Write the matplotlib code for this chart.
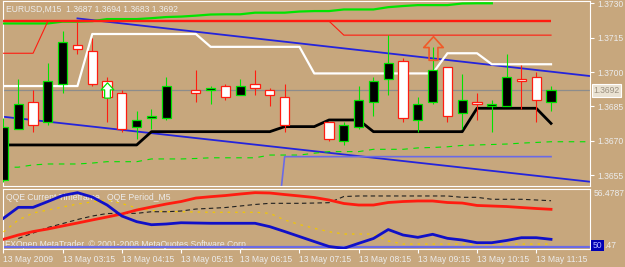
import matplotlib
matplotlib.use('Agg')
import matplotlib.pyplot as plt
import numpy as np
from matplotlib.path import Path

plt.rcParams['font.family'] = ['Liberation Sans', 'DejaVu Sans']

# EURUSD M15, bars from 02:15 to 11:30 (nan = bar hidden behind indicator line)
nan = np.nan
opens  = [1.3653, 1.3675, 1.3687, 1.3678, 1.3695, 1.3712, 1.3709, 1.3696, 1.3691, 1.3676,
          1.3680, 1.3680, nan,    1.3692, 1.3692, 1.3694, 1.3690, 1.3695, 1.3692, 1.3689,
          nan,    nan,    1.3678, 1.3670, 1.3676, 1.3687, 1.3697, 1.3705, 1.3679, 1.3687,
          1.3702, 1.3682, 1.3687, 1.3685, 1.3685, 1.3697, 1.3698, 1.3687]
highs  = [1.3680, 1.3697, 1.3692, 1.3704, 1.3718, 1.3722, 1.3715, 1.3698, 1.3692, 1.3683,
          1.3684, 1.3698, nan,    1.3701, 1.3694, 1.3695, 1.3697, 1.3701, 1.3693, 1.3695,
          nan,    nan,    1.3678, 1.3678, 1.3694, 1.3698, 1.3716, 1.3706, 1.3689, 1.3711,
          1.3702, 1.3699, 1.3691, 1.3688, 1.3708, 1.3703, 1.3700, 1.3694]
lows   = [1.3652, 1.3675, 1.3674, 1.3677, 1.3691, 1.3708, 1.3694, 1.3678, 1.3674, 1.3671,
          1.3675, 1.3679, nan,    1.3687, 1.3686, 1.3688, 1.3690, 1.3690, 1.3685, 1.3674,
          nan,    nan,    1.3670, 1.3668, 1.3675, 1.3681, 1.3690, 1.3678, 1.3674, 1.3686,
          1.3678, 1.3675, 1.3679, 1.3674, 1.3685, 1.3684, 1.3678, 1.3683]
closes = [1.3676, 1.3686, 1.3677, 1.3696, 1.3713, 1.3710, 1.3695, 1.3689, 1.3675, 1.3679,
          1.3681, 1.3694, nan,    1.3691, 1.3693, 1.3689, 1.3694, 1.3693, 1.3690, 1.3677,
          nan,    nan,    1.3671, 1.3677, 1.3688, 1.3696, 1.3704, 1.3680, 1.3686, 1.3701,
          1.3681, 1.3688, 1.3686, 1.3686, 1.3698, 1.3696, 1.3688, 1.3692]

# main window indicators
green_top = [1.37212, 1.37212, 1.37212, 1.37212, 1.37220, 1.37220, 1.37222, 1.37231, 1.37231, 1.37231,
             1.37235, 1.37240, 1.37242, 1.37246, 1.37251, 1.37252, 1.37252, 1.37259, 1.37259, 1.37259,
             1.37264, 1.37266, 1.37266, 1.37273, 1.37273, 1.37273, 1.37283, 1.37288, 1.37292, 1.37292,
             1.37292, 1.37299, 1.37300, 1.37300]
red_level = 1.37222
red_thin = [1.37082, 1.37082, 1.37082, 1.37222, 1.37222, 1.37222, 1.37222, 1.37222, 1.37222, 1.37222,
            1.37222, 1.37222, 1.37222, 1.37222, 1.37222, 1.37222, 1.37222, 1.37222, 1.37222, 1.37222,
            1.37222, 1.37222, 1.37222, 1.37161, 1.37161, 1.37161, 1.37161, 1.37161, 1.37161, 1.37161,
            1.37161, 1.37161, 1.37161, 1.37161, 1.37161, 1.37161, 1.37161, 1.37161]
white_line = [1.36939, 1.36939, 1.36939, 1.36939, 1.36939, 1.36939, 1.37166, 1.37166, 1.37166, 1.37166,
              1.37166, 1.37166, 1.37166, 1.37166, 1.37110, 1.37110, 1.37110, 1.37110, 1.37110, 1.37110,
              1.37110, 1.36994, 1.36994, 1.36994, 1.36994, 1.36994, 1.36994, 1.36994, 1.36994, 1.36994,
              1.37082, 1.37082, 1.37082, 1.37034, 1.37034, 1.37034, 1.37034, 1.37034]
black_line = [1.36682, 1.36682, 1.36682, 1.36682, 1.36682, 1.36682, 1.36682, 1.36682, 1.36682, 1.36682,
              1.36740, 1.36740, 1.36740, 1.36740, 1.36740, 1.36740, 1.36740, 1.36740, 1.36740, 1.36762,
              1.36762, 1.36762, 1.36791, 1.36791, 1.36791, 1.36740, 1.36740, 1.36740, 1.36740, 1.36740,
              1.36740, 1.36740, 1.36842, 1.36842, 1.36842, 1.36842, 1.36842, 1.36776]
purple_line = [1.3603, 1.3603, 1.3603, 1.3603, 1.3603, 1.3603, 1.3603, 1.3603, 1.3603, 1.3603,
               1.3603, 1.3603, 1.3603, 1.3603, 1.3603, 1.3603, 1.3603, 1.3603, 1.3603, 1.36631,
               1.36631, 1.36631, 1.36631, 1.36631, 1.36631, 1.36631, 1.36631, 1.36631, 1.36631, 1.36631,
               1.36631, 1.36631, 1.36631, 1.36631, 1.36631, 1.36631, 1.36631, 1.36631]
green_dash = [1.36585, 1.36585, 1.36595, 1.36599, 1.36599, 1.36599, 1.36603, 1.36609, 1.36609, 1.36609,
              1.36621, 1.36621, 1.36621, 1.36623, 1.36626, 1.36626, 1.36626, 1.36626, 1.36638, 1.36638,
              1.36638, 1.36646, 1.36653, 1.36653, 1.36653, 1.36663, 1.36663, 1.36663, 1.36669, 1.36671,
              1.36674, 1.36680, 1.36682, 1.36684, 1.36686, 1.36690, 1.36693, 1.36696, 1.36696, 1.36696,
              1.36696]
# channel (trend lines), anchor bar / price
chan_up_bars = [5, 40]
chan_up_prices = [1.37234, 1.36980]
chan_lo_bars = [0, 40]
chan_lo_prices = [1.36805, 1.36519]
arrow_bars = [7, 29]
arrow_prices = [1.36922, 1.37105]

# QQE window
qqe_red = [50.86, 51.34, 51.73, 52.01, 52.35, 52.68, 53.02, 53.35, 53.69, 54.13,
           54.47, 54.80, 55.08, 55.47, 55.62, 55.75, 55.92, 56.07, 56.03, 55.86,
           55.70, 55.53, 55.25, 54.86, 54.69, 54.69, 54.97, 55.08, 55.14, 55.14,
           54.97, 54.91, 54.64, 54.58, 54.52, 54.41, 54.30, 54.21]
qqe_blue = [53.21, 54.43, 54.43, 55.08, 55.75, 56.07, 55.58, 54.69, 53.46, 52.83,
            52.49, 52.57, 52.71, 52.68, 52.65, 52.65, 52.65, 52.65, 52.27, 51.73,
            51.17, 50.61, 50.06, 49.85, 50.41, 50.95, 51.95, 51.34, 51.08, 51.42,
            50.97, 50.78, 50.48, 50.48, 50.73, 51.04, 51.04, 50.86]
qqe_black = [nan, 50.95, 51.56, 52.18, 52.62, 53.07, 53.46, 53.74, 53.76, 53.76,
             53.94, 53.94, 54.02, 54.24, 54.32, 54.41, 54.58, 54.75, 54.88, 54.88,
             54.88, 54.91, 54.95, 55.64, 55.70, 55.70, 55.70, 55.70, 55.70, 55.70,
             55.70, 55.55, 55.55, 55.33, 55.33, 55.33, 55.25, 55.17]
qqe_yellow = [51.68, 53.02, 53.80, 54.13, 54.47, 54.80, 55.03, 55.25, 54.86, 54.36,
              54.08, 53.94, 53.94, 53.91, 53.88, 53.88, 53.88, 53.88, 53.76, 53.02,
              52.51, 52.09, 51.71, 51.45, 51.45, 51.45, 50.67, 50.33, 50.33, 50.33,
              50.33, 50.33, 50.33, 50.33, 50.33, 50.33, 50.33, 50.33]
qqe_level = 50
qqe_max = 56.4787

price_ticks = [1.3655, 1.3670, 1.3685, 1.3700, 1.3715, 1.3730]
time_tick_bars = [0, 4, 8, 12, 16, 20, 24, 28, 32, 36]
time_labels = ['13 May 2009', '13 May 03:15', '13 May 04:15', '13 May 05:15', '13 May 06:15',
               '13 May 07:15', '13 May 08:15', '13 May 09:15', '13 May 10:15', '13 May 11:15']

BG = '#C7A77D'
GREEN = '#00E400'
RED = '#FF1C10'
BLUE = '#2424DC'
PURPLE = '#6A6AE6'
TXT = '#ECECEC'
FS = 6.2

o = np.array(opens); h = np.array(highs); l = np.array(lows); c = np.array(closes)
bars = np.arange(len(o))
xlim = (-0.054, 39.63)

fig = plt.figure(figsize=(6.25, 2.67), dpi=100, facecolor=BG)

# ---- main price window
ax = fig.add_axes([0.0043, 0.3034, 0.9396, 0.6929], facecolor=BG)
ax.set_xlim(*xlim)
ax.set_ylim(1.36503, 1.37310)

ax.axhline(c[-1], color='#8C8C8C', lw=0.9, zorder=1)
ax.plot(chan_up_bars, chan_up_prices, color=BLUE, lw=1.3, zorder=2)
ax.plot(chan_lo_bars, chan_lo_prices, color=BLUE, lw=1.3, zorder=2)
ax.plot(np.arange(len(green_dash)), green_dash, color=GREEN, lw=0.8, ls=(0, (5, 5)), zorder=2)
ax.plot(bars, purple_line, color=PURPLE, lw=1.2, zorder=2)
ax.plot(np.arange(len(green_top)), green_top, color=GREEN, lw=1.6, zorder=3)
ax.hlines(red_level, bars[0], bars[-1], color=RED, lw=1.7, zorder=3)
ax.plot(bars, red_thin, color=RED, lw=0.8, zorder=3)
ax.plot(bars, white_line, color='white', lw=1.6, zorder=3)
ax.plot(bars, black_line, color='black', lw=2.0, zorder=3)

bull = c > o
bear = c < o
ax.vlines(bars[bull], l[bull], h[bull], color=GREEN, lw=0.8, zorder=5)
ax.bar(bars[bull], (c - o)[bull], bottom=o[bull], width=0.62, color='black',
       edgecolor=GREEN, linewidth=0.9, zorder=6)
ax.vlines(bars[bear], l[bear], h[bear], color=RED, lw=0.8, zorder=5)
ax.bar(bars[bear], (o - c)[bear], bottom=c[bear], width=0.62, color='white',
       edgecolor=RED, linewidth=0.9, zorder=6)

arrow = Path([(0, 1), (0.83, 0.08), (0.375, 0.08), (0.375, -1), (-0.375, -1),
              (-0.375, 0.08), (-0.83, 0.08), (0, 1)],
             [Path.MOVETO] + [Path.LINETO] * 6 + [Path.CLOSEPOLY])
ax.plot(arrow_bars[0], arrow_prices[0], marker=arrow, ms=11, mfc='white', mec=GREEN, mew=0.9, zorder=8)
ax.plot(arrow_bars[1], arrow_prices[1], marker=arrow, ms=17, mfc='none', mec='#F05A28', mew=1.2, zorder=8)

ax.set_xticks([])
ax.yaxis.tick_right()
ax.set_yticks(price_ticks, labels=['%.4f' % p for p in price_ticks])
ax.tick_params(axis='y', length=3, width=0.8, color='white', pad=2.5,
               labelsize=FS, labelcolor=TXT)
for s in ax.spines.values():
    s.set_color('white')
    s.set_linewidth(0.8)

ax.text(0.0057, 0.955, 'EURUSD,M15  %.4f %.4f %.4f %.4f' % (o[-1], h[-1], l[-1], c[-1]),
        transform=ax.transAxes, fontsize=FS, color=TXT, va='center', ha='left', zorder=10)
ax.annotate('%.4f' % c[-1], xy=(1, c[-1]), xycoords=('axes fraction', 'data'),
            xytext=(2.5, 0), textcoords='offset points', va='center', ha='left',
            fontsize=FS, color='#9A9080',
            bbox=dict(boxstyle='square,pad=0.2', fc='#EAE2D2', ec='white', lw=0.8),
            annotation_clip=False)

# ---- QQE window
ax2 = fig.add_axes([0.0043, 0.0674, 0.9396, 0.2236], facecolor=BG)
ax2.set_xlim(*xlim)
ax2.set_ylim(49.777, 56.445)

ax2.text(0.0056, 0.87, 'QQE Current Timeframe', transform=ax2.transAxes,
         fontsize=FS, color=TXT, va='center', ha='left', zorder=1)
ax2.text(0.1776, 0.87, 'QQE Period_M5', transform=ax2.transAxes,
         fontsize=FS, color=TXT, va='center', ha='left', zorder=1)
ax2.text(0.004, 0.08, 'FXOpen MetaTrader, \u00a9 2001-2008 MetaQuotes Software Corp.',
         transform=ax2.transAxes, fontsize=FS, color=TXT, va='center', ha='left', zorder=1)

ax2.axhline(qqe_level, color=PURPLE, lw=1.6, zorder=2)
ax2.plot(bars, qqe_yellow, color='#F2C800', lw=0.9, ls=(0, (2, 4)), zorder=3)
ax2.plot(bars, qqe_black, color='#202020', lw=0.8, ls=(0, (4, 3)), zorder=3)
ax2.plot(bars, qqe_red, color=RED, lw=2.0, zorder=4)
ax2.plot(bars, qqe_blue, color='#1010C8', lw=2.0, zorder=4)

ax2.set_yticks([])
ax2.set_xticks(time_tick_bars, labels=time_labels)
plt.setp(ax2.get_xticklabels(), ha='left')
ax2.tick_params(axis='x', length=3, width=0.8, color='white', pad=1.5,
                labelsize=FS, labelcolor=TXT)
for s in ax2.spines.values():
    s.set_color('white')
    s.set_linewidth(0.8)

ax2.annotate('%.4f' % qqe_max, xy=(1, qqe_max), xycoords=('axes fraction', 'data'),
             xytext=(2.5, 0), textcoords='offset points', va='top', ha='left',
             fontsize=FS, color=TXT, annotation_clip=False)
ax2.annotate('%d' % qqe_level, xy=(1, qqe_level), xycoords=('axes fraction', 'data'),
             xytext=(2, 1), textcoords='offset points', va='center', ha='left',
             fontsize=FS, color='#B8B8FF',
             bbox=dict(boxstyle='square,pad=0.15', fc='#0000B4', ec='none'),
             annotation_clip=False)
ax2.annotate('.47', xy=(1, qqe_level), xycoords=('axes fraction', 'data'),
             xytext=(10.5, 1), textcoords='offset points', va='center', ha='left',
             fontsize=FS, color=TXT, annotation_clip=False)

fig.savefig('out.png', dpi=100, facecolor=BG)
